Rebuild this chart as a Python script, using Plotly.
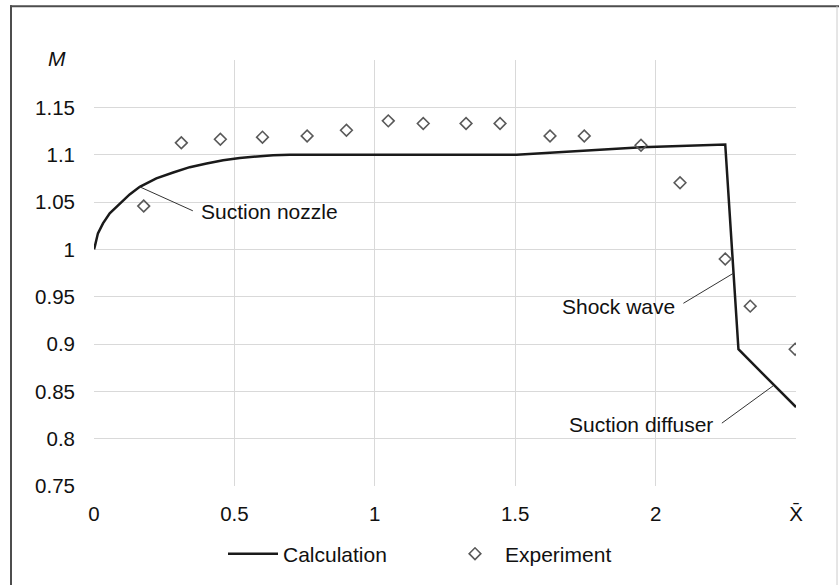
import plotly.graph_objects as go

# Data
calc_x = [0.0, 0.003, 0.014, 0.032, 0.056, 0.092, 0.127, 0.163, 0.222, 0.282, 0.341, 0.401, 0.46, 0.519,
          0.579, 0.638, 0.697, 1.0, 1.505, 1.95, 2.248, 2.295, 2.5]
calc_y = [1.0, 1.003, 1.0169, 1.0274, 1.038, 1.0485, 1.058, 1.066, 1.0749, 1.0812, 1.0868, 1.0907, 1.0942,
          1.0966, 1.0984, 1.0995, 1.1, 1.1, 1.1, 1.1078, 1.1108, 0.8945, 0.8333]

exp_x = [0.177, 0.311, 0.45, 0.600, 0.759, 0.899, 1.048, 1.1725, 1.325, 1.446, 1.624, 1.746, 1.948, 2.087, 2.248, 2.337, 2.497]
exp_y = [1.0457, 1.1125, 1.1163, 1.1185, 1.1198, 1.1258, 1.1357, 1.1329, 1.133, 1.133, 1.1198, 1.1198, 1.110, 1.0703, 0.9898, 0.940, 0.8945]

x_tickvals = [0, 0.5, 1, 1.5, 2, 2.5]
x_ticktext = ["0", "0.5", "1", "1.5", "2", "X\u0304"]
y_tickvals = [0.75, 0.8, 0.85, 0.9, 0.95, 1.0, 1.05, 1.1, 1.15]
y_ticktext = ["0.75", "0.8", "0.85", "0.9", "0.95", "1", "1.05", "1.1", "1.15"]

labels = ["Suction nozzle", "Shock wave", "Suction diffuser"]
label_x = [0.374, 2.077, 2.21]
label_y = [1.0397, 0.9394, 0.8147]
leader_from = [(0.163, 1.066), (2.099, 0.943), (2.236, 0.8164)]
leader_to = [(0.352, 1.0407), (2.277, 0.9747), (2.418, 0.8557)]
label_anchor = ["left", "right", "right"]

FONT = "Liberation Sans, Arial, sans-serif"
W, H = 839, 585
ML, MR, MT, MB = 94, 43, 60, 98
PW, PH = W - ML - MR, H - MT - MB

def px_x(p):
    return (p - ML) / PW

def px_y(p):
    return (H - MB - p) / PH

fig = go.Figure()
fig.add_trace(go.Scatter(x=calc_x, y=calc_y, mode="lines", name="Calculation",
                         line=dict(color="#1a1a1a", width=2.5)))
fig.add_trace(go.Scatter(x=exp_x, y=exp_y, mode="markers", name="Experiment",
                         marker=dict(symbol="diamond-open", size=9,
                                     color="#595959", line=dict(width=1.6, color="#595959"))))

for (x0, y0), (x1, y1) in zip(leader_from, leader_to):
    fig.add_shape(type="line", xref="x", yref="y", x0=x0, y0=y0, x1=x1, y1=y1,
                  line=dict(color="#333333", width=1))

for t, x, y, a in zip(labels, label_x, label_y, label_anchor):
    fig.add_annotation(x=x, y=y, xref="x", yref="y", text=t, showarrow=False,
                       xanchor=a, yanchor="middle",
                       font=dict(family=FONT, size=21, color="#111111"))

fig.add_annotation(x=px_x(57), y=px_y(58), xref="paper", yref="paper", text="<i>M</i>",
                   showarrow=False, xanchor="center", yanchor="middle",
                   font=dict(family=FONT, size=21, color="#111111"))

# outer frame
fig.add_shape(type="line", xref="paper", yref="paper", x0=px_x(11), x1=px_x(11),
              y0=px_y(5), y1=px_y(590), line=dict(color="#4d4d4d", width=2))
fig.add_shape(type="line", xref="paper", yref="paper", x0=px_x(10), x1=px_x(845),
              y0=px_y(6), y1=px_y(6), line=dict(color="#4d4d4d", width=2))
fig.add_shape(type="line", xref="paper", yref="paper", x0=px_x(837), x1=px_x(837),
              y0=px_y(6), y1=px_y(590), line=dict(color="#cccccc", width=1))

fig.update_layout(
    width=W, height=H,
    margin=dict(l=ML, r=MR, t=MT, b=MB),
    paper_bgcolor="white", plot_bgcolor="white",
    font=dict(family=FONT, size=20, color="#111111"),
    xaxis=dict(range=[0, 2.5], tickvals=x_tickvals, ticktext=x_ticktext,
               showgrid=True, gridcolor="#d9d9d9", gridwidth=1.3,
               zeroline=False, showline=False, ticks="", ticklabelstandoff=13,
               tickfont=dict(family=FONT, size=20.5, color="#111111")),
    yaxis=dict(range=[0.75, 1.2], tickvals=y_tickvals + [1.2], ticktext=y_ticktext + [""],
               showgrid=True, gridcolor="#d9d9d9", gridwidth=1.3,
               zeroline=False, showline=False, ticks="", ticklabelstandoff=18,
               tickfont=dict(family=FONT, size=20.5, color="#111111")),
    showlegend=True,
    legend=dict(orientation="h", x=px_x(223), y=px_y(554), xanchor="left", yanchor="middle",
                font=dict(family=FONT, size=21, color="#111111"),
                entrywidth=157, entrywidthmode="pixels", itemwidth=50,
                bgcolor="rgba(0,0,0,0)"),
)

fig.write_html("out.html", config={"displayModeBar": False},
               post_script="document.body.style.margin='0';")
